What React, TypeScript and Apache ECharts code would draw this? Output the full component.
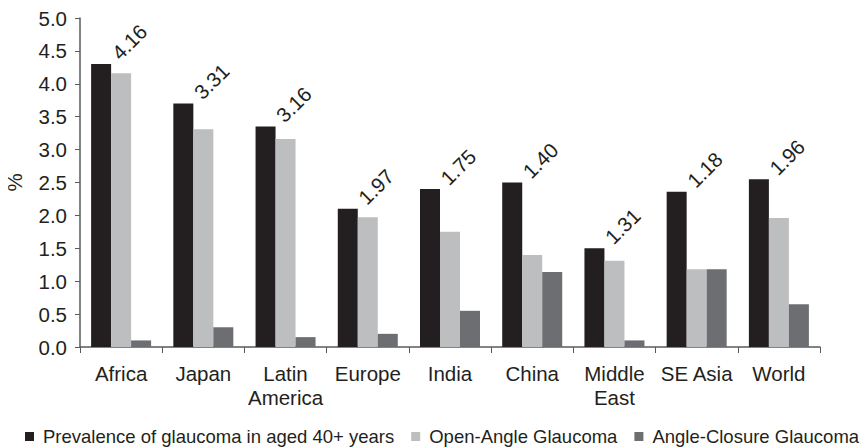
import React, { useEffect, useRef } from "react";
import * as echarts from "echarts";

const categories = ["Africa", "Japan", "Latin\nAmerica", "Europe", "India", "China", "Middle\nEast", "SE Asia", "World"];
const overallPrevalence = [4.3, 3.7, 3.35, 2.1, 2.4, 2.5, 1.5, 2.36, 2.55];
const openAngle = [4.16, 3.31, 3.16, 1.97, 1.75, 1.4, 1.31, 1.18, 1.96];
const angleClosure = [0.1, 0.3, 0.15, 0.2, 0.55, 1.14, 0.1, 1.18, 0.65];
const seriesNames = [
  "Prevalence of glaucoma in aged 40+ years",
  "Open-Angle Glaucoma",
  "Angle-Closure Glaucoma",
];
const yTicks = { min: 0, max: 5, interval: 0.5 };

const FONT = '"Liberation Sans", Arial, Helvetica, sans-serif';
const TEXT = "#231f20";
const AXIS = "#5a5a5c";

export default function App() {
  const ref = useRef<HTMLDivElement>(null);

  useEffect(() => {
    if (!ref.current) return;
    const chart = echarts.init(ref.current, undefined, { renderer: "svg" });
    chart.setOption({
      animation: false,
      textStyle: { fontFamily: FONT, color: TEXT },
      grid: { left: 80, right: 48, top: 18, bottom: 101, outerBoundsMode: "none" },
      legend: {
        left: 25,
        top: 427,
        padding: 0,
        icon: "rect",
        itemWidth: 9,
        itemHeight: 9,
        itemGap: 17,
        textStyle: { fontFamily: FONT, fontSize: 18.5, color: TEXT, padding: [0, 0, 0, 4] },
        data: seriesNames,
      },
      xAxis: {
        type: "category",
        data: categories,
        axisLine: { lineStyle: { color: AXIS, width: 1.5 } },
        axisTick: { show: true, length: 6, lineStyle: { color: AXIS } },
        axisLabel: {
          fontFamily: FONT,
          fontSize: 20.5,
          color: TEXT,
          margin: 14,
          lineHeight: 24,
          interval: 0,
        },
      },
      yAxis: {
        type: "value",
        min: yTicks.min,
        max: yTicks.max,
        interval: yTicks.interval,
        name: "%",
        nameLocation: "middle",
        nameGap: 55,
        nameRotate: 90,
        nameTextStyle: { fontFamily: FONT, fontSize: 20.5, color: TEXT },
        axisLine: { show: true, lineStyle: { color: AXIS, width: 1.5 } },
        axisTick: { show: true, length: 5, lineStyle: { color: AXIS } },
        splitLine: { show: false },
        axisLabel: {
          fontFamily: FONT,
          fontSize: 20.5,
          color: TEXT,
          margin: 13,
          formatter: (v: number) => v.toFixed(1),
        },
      },
      series: [
        {
          name: seriesNames[0],
          type: "bar",
          data: overallPrevalence,
          barWidth: 20,
          barGap: "0%",
          itemStyle: { color: "#231f20" },
          // open-angle share printed above each group's tallest bar
          label: {
            show: true,
            position: [24, -8],
            rotate: 45,
            align: "left",
            verticalAlign: "middle",
            fontFamily: FONT,
            fontSize: 20.5,
            color: TEXT,
            formatter: (p: any) => openAngle[p.dataIndex].toFixed(2),
          },
        },
        {
          name: seriesNames[1],
          type: "bar",
          data: openAngle,
          barWidth: 20,
          barGap: "0%",
          itemStyle: { color: "#bcbec0" },
        },
        {
          name: seriesNames[2],
          type: "bar",
          data: angleClosure,
          barWidth: 20,
          barGap: "0%",
          itemStyle: { color: "#6d6e71" },
        },
      ],
    });
    return () => chart.dispose();
  }, []);

  return <div ref={ref} style={{ width: 868, height: 448, marginLeft: -8, marginTop: -8 }} />;
}
